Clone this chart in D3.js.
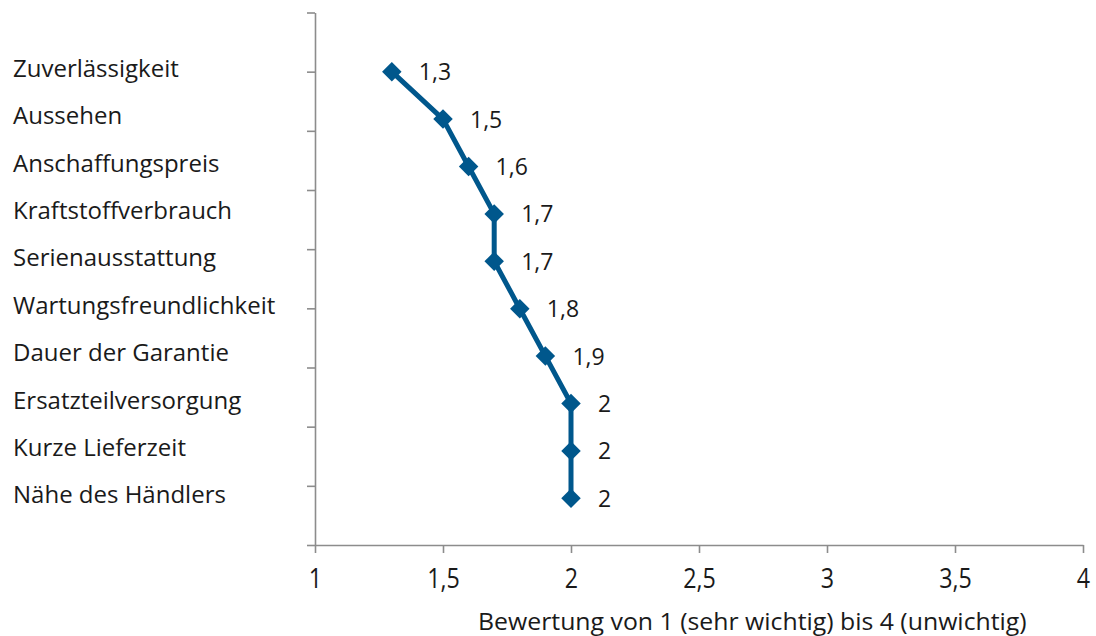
<!DOCTYPE html>
<html>
<head>
<meta charset="utf-8">
<script src="https://cdn.jsdelivr.net/npm/d3@7"></script>
<style>
  html, body { margin: 0; padding: 0; background: #fff; }
  svg { display: block; }
  text { font-family: "Open Sans", sans-serif; fill: #1a1a1a; }
</style>
</head>
<body>
<svg id="chart" width="1096" height="636"></svg>
<script>
const categories = [
  "Zuverlässigkeit", "Aussehen", "Anschaffungspreis", "Kraftstoffverbrauch",
  "Serienausstattung", "Wartungsfreundlichkeit", "Dauer der Garantie",
  "Ersatzteilversorgung", "Kurze Lieferzeit", "Nähe des Händlers"
];
const values = [1.3, 1.5, 1.6, 1.7, 1.7, 1.8, 1.9, 2, 2, 2];
const valueLabels = ["1,3", "1,5", "1,6", "1,7", "1,7", "1,8", "1,9", "2", "2", "2"];
const xTicks = [1, 1.5, 2, 2.5, 3, 3.5, 4];
const xTickLabels = ["1", "1,5", "2", "2,5", "3", "3,5", "4"];
const xTitle = "Bewertung von 1 (sehr wichtig) bis 4 (unwichtig)";
const yTickCount = 9;

const svg = d3.select("#chart");
const axisColor = "#8c8c8c";
const blue = "#00578c";

const x = d3.scaleLinear().domain([1, 4]).range([315, 1083]);
const yAxisScale = d3.scaleLinear().domain([0, yTickCount]).range([545, 12.5]);
const y = d3.scalePoint().domain(categories).range([71.7, 498.3]);

// Y axis (ticks only)
const yAxis = svg.append("g").attr("transform", "translate(315,0)")
  .call(d3.axisLeft(yAxisScale).tickValues(d3.range(0, yTickCount + 1)).tickSize(8).tickSizeOuter(0).tickFormat(""));
yAxis.select(".domain").attr("stroke", axisColor).attr("stroke-width", 1.6);
yAxis.selectAll(".tick line").attr("stroke", axisColor).attr("stroke-width", 1.6);

// X axis
const xAxis = svg.append("g").attr("transform", "translate(0,545)")
  .call(d3.axisBottom(x).tickValues(xTicks).tickSize(8).tickSizeOuter(0)
    .tickFormat((d, i) => xTickLabels[i]));
xAxis.select(".domain").attr("stroke", axisColor).attr("stroke-width", 1.6);
xAxis.selectAll(".tick line").attr("stroke", axisColor).attr("stroke-width", 1.6);
xAxis.selectAll(".tick text")
  .attr("y", 0).attr("dy", null)
  .attr("transform", "translate(0,43) scale(0.83,1)")
  .style("font-family", "'Open Sans', sans-serif")
  .style("font-size", "28px")
  .attr("fill", "#1a1a1a");

// X title
const title = svg.append("text")
  .attr("x", 0).attr("y", 0)
  .style("font-size", "24px")
  .text(xTitle);
const tw = title.node().getComputedTextLength();
const sx = 549 / tw;
title.attr("transform", `translate(478,630) scale(${sx},1)`);

// Category labels
svg.append("g").selectAll("text").data(categories).join("text")
  .attr("x", 13)
  .attr("y", d => y(d) + 5)
  .style("font-size", "24px")
  .text(d => d);

// Line
const line = d3.line().x((d, i) => x(d)).y((d, i) => y(categories[i]));
svg.append("path").datum(values)
  .attr("d", line)
  .attr("fill", "none")
  .attr("stroke", blue)
  .attr("stroke-width", 5)
  .attr("stroke-linejoin", "round");

// Markers (rotated squares)
const sym = d3.symbol().type(d3.symbolSquare).size(190);
svg.append("g").selectAll("path").data(values).join("path")
  .attr("d", sym)
  .attr("transform", (d, i) => `translate(${x(d)},${y(categories[i])}) rotate(45)`)
  .attr("fill", blue);

// Data labels
svg.append("g").selectAll("text").data(values).join("text")
  .attr("x", d => x(d) + 27)
  .attr("y", (d, i) => y(categories[i]) + 8.5)
  .style("font-size", "23px")
  .text((d, i) => valueLabels[i]);
</script>
</body>
</html>
